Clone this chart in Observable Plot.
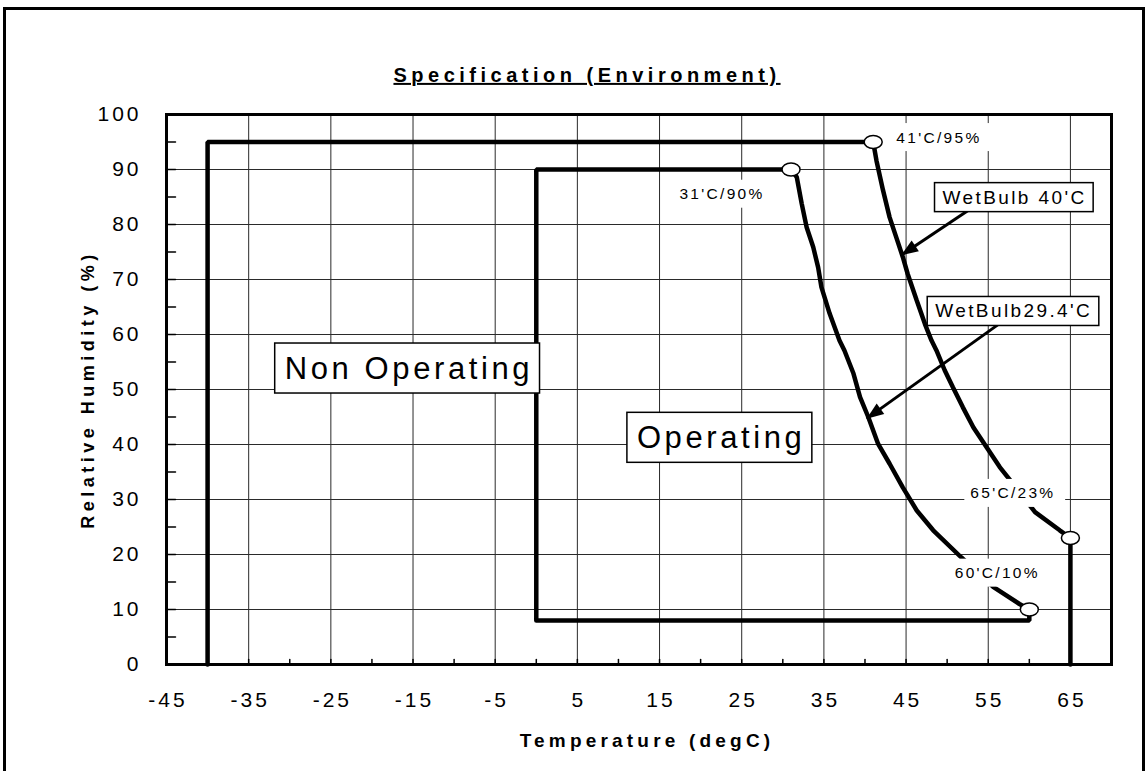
<!DOCTYPE html>
<html>
<head>
<meta charset="utf-8">
<script src="https://cdn.jsdelivr.net/npm/d3@7"></script>
<script src="https://cdn.jsdelivr.net/npm/@observablehq/plot@0.6"></script>
<style>
html,body{margin:0;padding:0;background:#fff;}
#wrap{position:relative;width:1147px;height:771px;overflow:hidden;background:#fff;}
#chart svg{display:block;}
#border{position:absolute;left:3px;top:7px;width:1136px;height:900px;border:3px solid #000;pointer-events:none;}
g[aria-label="x-axis tick label"], g[aria-label="y-axis tick label"]{letter-spacing:3px;}
</style>
</head>
<body>
<div id="wrap"><div id="chart"></div><div id="border"></div></div>
<script>
// ---------- data ----------
const chartTitle = "Specification (Environment)";
const xTitle = "Temperature (degC)";
const yTitle = "Relative Humidity (%)";

const xTickValues = [-45, -35, -25, -15, -5, 5, 15, 25, 35, 45, 55, 65];
const yTickValues = [0, 10, 20, 30, 40, 50, 60, 70, 80, 90, 100];
const xGridValues = [-35, -25, -15, -5, 5, 15, 25, 35, 45, 55, 65];
const yGridValues = [10, 20, 30, 40, 50, 60, 70, 80, 90];
const xMinorTicks = [-40, -35, -30, -25, -20, -15, -10, -5, 0, 5, 10, 15, 20, 25, 30, 35, 40, 45, 50, 55, 60, 65];
const yMinorTicks = [5, 10, 15, 20, 25, 30, 35, 40, 45, 50, 55, 60, 65, 70, 75, 80, 85, 90, 95];

// Non operating envelope
const nonOpLeftT = [-40, -40];
const nonOpLeftRH = [0, 95];
const wb40T = [41, 41.4, 42.2, 43.0, 43.8, 44.6, 45.2, 46.3, 47.3, 48.1, 48.7, 49.7, 50.7, 51.9, 53.2, 54.8, 56.4, 58.0, 60.7, 63.7, 65];
const wb40RH = [95, 91.6, 86.2, 81.3, 77.7, 74.1, 71.0, 66.2, 61.9, 58.9, 57.1, 53.5, 50.4, 46.8, 43.1, 39.5, 35.9, 32.9, 27.7, 24.4, 23];
const nonOpRightT = [65];
const nonOpRightRH = [0];

// Operating envelope
const opLeftT = [0, 0];
const opLeftRH = [8, 90];
const wb294T = [31, 31.7, 32.3, 32.9, 33.7, 34.3, 34.7, 35.7, 36.9, 37.5, 38.6, 39.4, 40.4, 41.6, 43.0, 44.6, 46.3, 48.3, 51.7, 55.6, 58.8, 60];
const wb294RH = [90, 88.6, 83.8, 79.5, 75.9, 72.2, 68.6, 63.8, 58.9, 57.1, 52.9, 48.6, 45.0, 40.1, 36.5, 32.2, 28.0, 24.4, 19.5, 14.1, 11.0, 10];
const opRightT = [60, 0];
const opRightRH = [8, 8];

// Corner markers
const markerT = [41, 31, 65, 60];
const markerRH = [95, 90, 23, 10];

// Labels
const pointLabels = ["41'C/95%", "31'C/90%", "65'C/23%", "60'C/10%"];
const pointLabelT = [49.0, 22.6, 58.0, 56.1];
const pointLabelRH = [95.8, 85.5, 31.1, 16.6];

const regionLabels = ["Non Operating", "Operating"];
const regionLabelT = [-15.5, 22.5];
const regionLabelRH = [53.8, 41.2];

const curveLabels = ["WetBulb 40'C", "WetBulb29.4'C"];
const curveLabelT = [58.2, 58.1];
const curveLabelRH = [84.9, 64.2];

const arrowFromT = [52.5, 56.2];
const arrowFromRH = [82.5, 61.8];
const arrowToT = [44.4, 40.2];
const arrowToRH = [74.4, 44.7];

// ---------- build ----------
const FONT = "'Liberation Sans', Arial, Helvetica, sans-serif";
const W = 1147, H = 771, ML = 166, MR = 36, MT = 114, MB = 107;
const xDomain = [-45, 70], yDomain = [0, 100];
const pts = (T, RH) => T.map((t, i) => ({T: t, RH: RH[i]}));
const nonOperating = [...pts(nonOpLeftT, nonOpLeftRH), ...pts(wb40T, wb40RH), ...pts(nonOpRightT, nonOpRightRH)];
const operating = [...pts(opLeftT, opLeftRH), ...pts(wb294T, wb294RH), ...pts(opRightT, opRightRH)];
const markers = pts(markerT, markerRH);
const arrows = arrowFromT.map((t, i) => ({x1: t, y1: arrowFromRH[i], x2: arrowToT[i], y2: arrowToRH[i]}));

// screen-space direction of each arrow (pixels per unit from the plot layout)
const kx = (W - ML - MR) / (xDomain[1] - xDomain[0]);
const ky = (H - MT - MB) / (yDomain[1] - yDomain[0]);
const arrowAngle = d => {
  const dx = (d.x2 - d.x1) * kx, dy = -(d.y2 - d.y1) * ky;
  return Math.atan2(dx, -dy) * 180 / Math.PI;
};

const ellipse = {
  draw(ctx) {
    const rx = 9, ry = 6.5, ex = rx * 0.5523, ey = ry * 0.5523;
    ctx.moveTo(rx, 0);
    ctx.bezierCurveTo(rx, ey, ex, ry, 0, ry);
    ctx.bezierCurveTo(-ex, ry, -rx, ey, -rx, 0);
    ctx.bezierCurveTo(-rx, -ey, -ex, -ry, 0, -ry);
    ctx.bezierCurveTo(ex, -ry, rx, -ey, rx, 0);
    ctx.closePath();
  }
};
const arrowHead = {
  draw(ctx) {
    ctx.moveTo(0, 0);
    ctx.lineTo(-6.5, 17);
    ctx.lineTo(6.5, 17);
    ctx.closePath();
  }
};
const tickShape = {draw(ctx, l) { ctx.moveTo(0, 0); ctx.lineTo(0, -l); }};

const chart = Plot.plot({
  width: W,
  height: H,
  marginTop: MT,
  marginRight: MR,
  marginBottom: MB,
  marginLeft: ML,
  x: {domain: xDomain},
  y: {domain: yDomain},
  style: {fontFamily: FONT, background: "transparent", color: "#000"},
  marks: [
    Plot.gridX(xGridValues, {stroke: "#2a2a2a", strokeOpacity: 1, strokeWidth: 1}),
    Plot.gridY(yGridValues, {stroke: "#2a2a2a", strokeOpacity: 1, strokeWidth: 1}),
    Plot.vector(yMinorTicks, {y: d => d, frameAnchor: "left", length: 9, rotate: 90, anchor: "start", shape: tickShape, stroke: "#000", strokeWidth: 1.5}),
    Plot.vector(xMinorTicks, {x: d => d, frameAnchor: "bottom", length: 5, rotate: 0, anchor: "start", shape: tickShape, stroke: "#000", strokeWidth: 1.5}),
    Plot.line(nonOperating, {x: "T", y: "RH", stroke: "#000", strokeWidth: 4.5, strokeLinejoin: "miter"}),
    Plot.line(operating, {x: "T", y: "RH", stroke: "#000", strokeWidth: 4.5, strokeLinejoin: "miter"}),
    Plot.frame({stroke: "#000", strokeWidth: 3}),
    Plot.link(arrows, {x1: "x1", y1: "y1", x2: "x2", y2: "y2", stroke: "#000", strokeWidth: 3}),
    Plot.dot(arrows, {x: "x2", y: "y2", symbol: arrowHead, rotate: arrowAngle, fill: "#000", stroke: "none"}),
    Plot.dot(markers, {x: "T", y: "RH", symbol: ellipse, fill: "#fff", stroke: "#000", strokeWidth: 1.5}),
    Plot.text(pointLabels, {x: (d, i) => pointLabelT[i], y: (d, i) => pointLabelRH[i], text: d => d, fontSize: 15.5, fill: "#000"}),
    Plot.text(regionLabels, {x: (d, i) => regionLabelT[i], y: (d, i) => regionLabelRH[i], text: d => d, fontSize: 31, fill: "#000"}),
    Plot.text(curveLabels, {x: (d, i) => curveLabelT[i], y: (d, i) => curveLabelRH[i], text: d => d, fontSize: 19, fill: "#000"}),
    Plot.axisX({ticks: xTickValues, tickSize: 0, tickPadding: 28, fontSize: 21, label: null, tickFormat: d => String(d), dx: 1.5}),
    Plot.axisY({ticks: yTickValues, tickSize: 0, tickPadding: 25, fontSize: 21, label: null, tickFormat: d => String(d)}),
    Plot.text([xTitle], {frameAnchor: "bottom", dy: 76, dx: 8, lineAnchor: "middle", textAnchor: "middle", fontSize: 19, fontWeight: "bold", fill: "#000"}),
    Plot.text([yTitle], {frameAnchor: "left", dx: -78, rotate: -90, lineAnchor: "middle", textAnchor: "middle", fontSize: 18, fontWeight: "bold", fill: "#000"}),
    Plot.text([chartTitle], {frameAnchor: "top", dy: -39, dx: -52, lineAnchor: "middle", textAnchor: "middle", fontSize: 20, fontWeight: "bold", fill: "#000"})
  ]
});

document.getElementById("chart").append(chart);

// ---------- text styling & label boxes ----------
const svgSel = d3.select(chart);
function styleTexts(values, ls, box, deco) {
  svgSel.selectAll("text").filter(function () { return values.includes(this.textContent); }).each(function () {
    this.style.letterSpacing = ls + "px";
    if (deco) this.style.textDecoration = deco;
    if (!box) return;
    const b = this.getBBox();
    const rect = document.createElementNS("http://www.w3.org/2000/svg", "rect");
    const w = b.width - ls + box.padL + box.padR;
    rect.setAttribute("x", b.x - box.padL);
    rect.setAttribute("y", b.y + b.height / 2 - box.h / 2 + (box.dy || 0));
    rect.setAttribute("width", w);
    rect.setAttribute("height", box.h);
    rect.setAttribute("fill", "#fff");
    if (box.stroke) { rect.setAttribute("stroke", "#000"); rect.setAttribute("stroke-width", box.stroke); }
    else rect.setAttribute("stroke", "none");
    const tr = this.getAttribute("transform");
    if (tr) rect.setAttribute("transform", tr);
    this.parentNode.insertBefore(rect, this);
  });
}
styleTexts(regionLabels, 3.6, {padL: 10, padR: 10, h: 50, stroke: 1.5});
styleTexts(curveLabels, 2.4, {padL: 8, padR: 9, h: 29, stroke: 1.5});
styleTexts(pointLabels, 2.3, {padL: 6, padR: 12, h: 28});
styleTexts([chartTitle], 4.5, null, "underline");
styleTexts([xTitle], 4.2, null);
styleTexts([yTitle], 4.5, null);
</script>
</body>
</html>
